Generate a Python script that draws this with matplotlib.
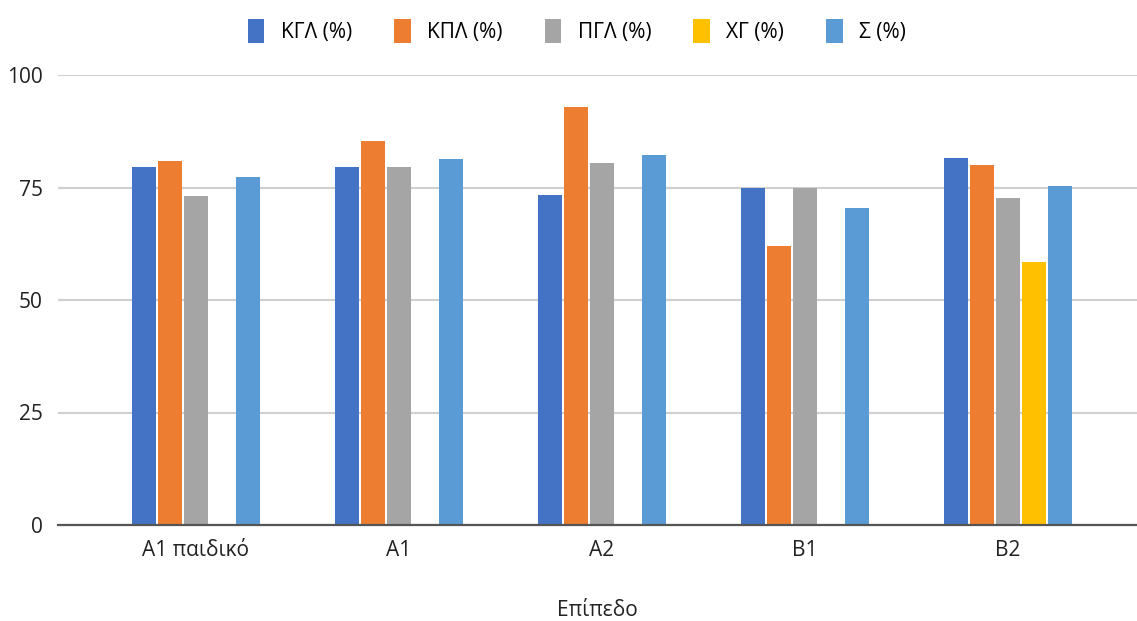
import matplotlib.pyplot as plt
import numpy as np

plt.rcParams['font.family'] = ['Open Sans', 'DejaVu Sans']

# Data
levels = ['A1 παιδικό', 'A1', 'A2', 'B1', 'B2']
series = ['ΚΓΛ (%)', 'ΚΠΛ (%)', 'ΠΓΛ (%)', 'ΧΓ (%)', 'Σ (%)']
kgl = [79.5, 79.5, 73.3, 75.0, 81.6]
kpl = [80.8, 85.3, 93.0, 62.0, 79.9]
pgl = [73.2, 79.5, 80.4, 75.0, 72.7]
xg = [0, 0, 0, 0, 58.4]
sigma = [77.3, 81.3, 82.2, 70.5, 75.4]
colors = ['#4472C4', '#ED7D31', '#A5A5A5', '#FFC000', '#5B9BD5']

fig = plt.figure(figsize=(11.37, 6.21), dpi=100)
ax = fig.add_axes([58 / 1137, 1 - 525 / 621, 1 - 58 / 1137, (525 - 75) / 621])

x = np.arange(len(levels))
step = 26 / 203
width = 24 / 203
for i, (vals, name, c) in enumerate(zip([kgl, kpl, pgl, xg, sigma], series, colors)):
    ax.bar(x + (i - 2) * step, vals, width, color=c, label=name, zorder=3)

ax.set_xlim(-138 / 203, 941 / 203)
ax.set_ylim(0, 100)
ax.set_yticks([0, 25, 50, 75, 100])
ax.set_xticks(x)
ax.set_xticklabels(levels)
ax.tick_params(axis='both', length=0, labelsize=15, colors='#222222')
ax.tick_params(axis='y', pad=11)
ax.tick_params(axis='x', pad=11)
ax.grid(axis='y', color='#d0d0d0', linewidth=1.5, zorder=0)
for s in ['top', 'right', 'left']:
    ax.spines[s].set_visible(False)
ax.spines['bottom'].set_color('#555555')
ax.spines['bottom'].set_linewidth(1.6)
ax.spines['bottom'].set_zorder(4)
ax.set_xlabel('Επίπεδο', fontsize=15, color='#222222', labelpad=28)

fig.legend(loc='upper center', bbox_to_anchor=(577 / 1137, 1.0), ncol=5,
           frameon=False, fontsize=15, handlelength=0.8, handleheight=1.4,
           columnspacing=2.0, handletextpad=0.8)

plt.savefig('out.png', dpi=100)
